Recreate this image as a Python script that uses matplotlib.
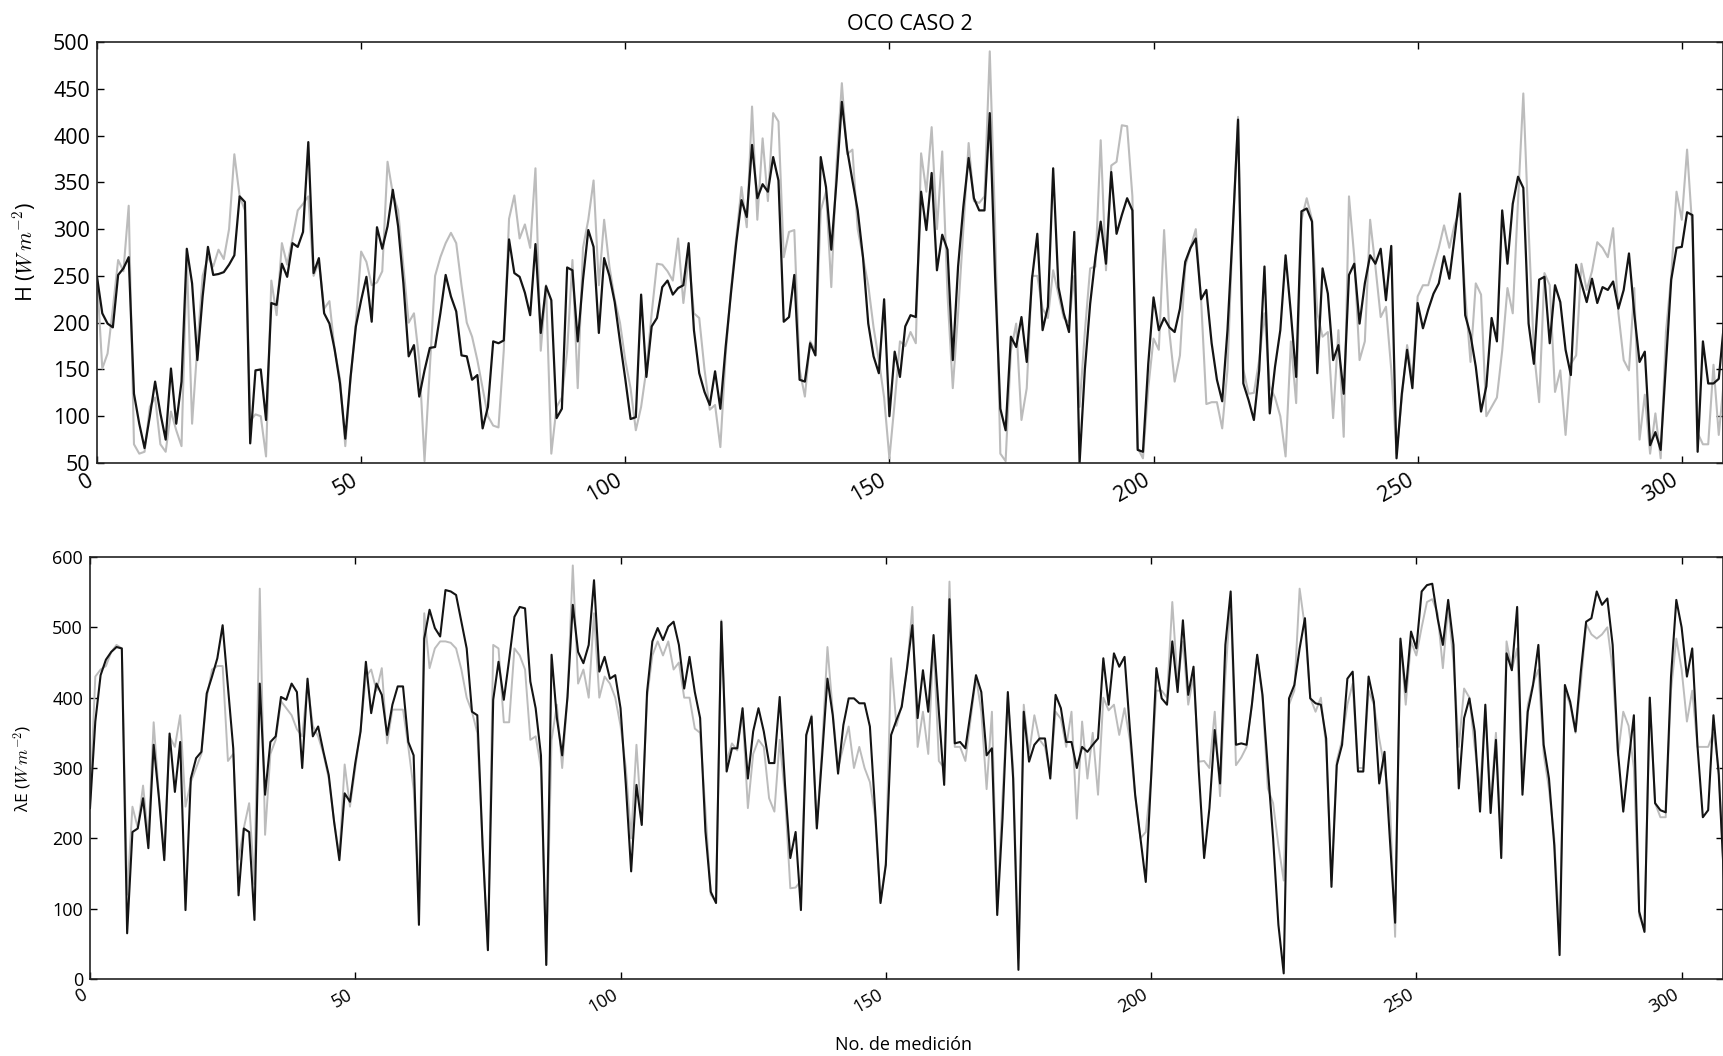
import numpy as np
import matplotlib
matplotlib.use("Agg")
import matplotlib.pyplot as plt

# ---- Flujo de calor sensible H (W m^-2) ----
h_black = [
    249, 210, 199, 195, 251, 258, 270, 124, 92, 66,
    100, 137, 103, 75, 151, 92, 137, 279, 242, 160,
    228, 281, 251, 252, 254, 262, 272, 335, 329, 71,
    149, 150, 96, 221, 219, 263, 249, 285, 281, 297,
    393, 253, 269, 210, 199, 171, 135, 76, 142, 196,
    224, 249, 201, 302, 279, 303, 342, 303, 242, 164,
    176, 121, 149, 173, 174, 210, 251, 228, 212, 165,
    164, 139, 144, 87, 110, 180, 178, 181, 289, 253,
    249, 232, 208, 284, 189, 239, 224, 98, 108, 259,
    256, 180, 246, 299, 281, 189, 269, 250, 222, 180,
    140, 97, 99, 230, 142, 196, 205, 238, 245, 230,
    237, 240, 285, 192, 146, 126, 112, 148, 108, 174,
    231, 285, 331, 313, 390, 333, 348, 340, 377, 352,
    201, 206, 251, 139, 137, 178, 165, 377, 345, 278,
    352, 436, 385, 352, 320, 270, 199, 164, 146, 225,
    100, 169, 142, 196, 208, 206, 340, 299, 360, 256,
    294, 278, 160, 260, 324, 376, 333, 320, 320, 424,
    250, 108, 85, 185, 174, 206, 158, 247, 295, 192,
    217, 365, 238, 210, 190, 297, 50, 150, 220, 270,
    308, 263, 361, 295, 315, 333, 320, 64, 62, 156,
    227, 192, 205, 195, 190, 215, 265, 280, 290, 225,
    235, 178, 139, 116, 192, 299, 417, 135, 117, 96,
    149, 260, 103, 153, 192, 272, 210, 142, 319, 322,
    308, 146, 258, 231, 160, 176, 124, 251, 263, 199,
    242, 272, 263, 279, 224, 282, 55, 124, 171, 130,
    221, 194, 214, 231, 242, 271, 247, 292, 338, 208,
    187, 153, 105, 132, 205, 180, 320, 263, 327, 356,
    344, 199, 156, 246, 249, 178, 240, 222, 171, 144,
    262, 242, 222, 247, 221, 238, 235, 244, 215, 235,
    274, 210, 158, 169, 69, 83, 64, 156, 246, 280,
    281, 318, 315, 62, 180, 135, 135, 140, 200,
]

h_gray = [
    250, 151, 167, 215, 267, 255, 325, 70, 60, 62,
    110, 120, 70, 62, 105, 85, 68, 270, 92, 175,
    250, 270, 260, 278, 268, 300, 380, 335, 320, 95,
    102, 100, 57, 245, 208, 285, 262, 290, 320, 327,
    335, 250, 265, 215, 223, 170, 140, 68, 140, 200,
    276, 265, 240, 243, 255, 372, 338, 320, 260, 200,
    210, 160, 52, 150, 250, 270, 285, 296, 285, 240,
    200, 185, 160, 130, 100, 90, 88, 170, 311, 336,
    290, 305, 280, 365, 170, 240, 60, 110, 120, 170,
    267, 130, 280, 310, 352, 240, 310, 260, 225, 200,
    160, 130, 85, 110, 150, 210, 263, 262, 255, 245,
    290, 221, 270, 210, 205, 150, 107, 112, 67, 165,
    235, 290, 345, 302, 431, 310, 397, 330, 424, 415,
    270, 297, 299, 150, 121, 180, 170, 320, 340, 238,
    370, 456, 380, 385, 300, 270, 240, 195, 160, 120,
    55, 115, 180, 175, 190, 178, 381, 340, 409, 300,
    383, 230, 130, 210, 300, 392, 330, 328, 335, 490,
    306, 60, 52, 170, 199, 96, 130, 250, 250, 215,
    205, 256, 230, 205, 200, 250, 110, 190, 258, 260,
    395, 256, 368, 372, 411, 410, 335, 66, 55, 130,
    183, 171, 299, 190, 137, 165, 260, 280, 300, 225,
    113, 115, 115, 87, 150, 300, 420, 150, 124, 125,
    160, 210, 132, 120, 100, 57, 180, 114, 310, 333,
    310, 210, 185, 190, 98, 192, 78, 335, 270, 160,
    180, 310, 260, 206, 217, 150, 60, 120, 176, 140,
    228, 240, 240, 260, 280, 304, 280, 305, 320, 230,
    158, 242, 230, 100, 110, 120, 170, 237, 210, 330,
    445, 300, 170, 115, 253, 240, 126, 149, 80, 156,
    165, 263, 235, 255, 286, 280, 270, 301, 210, 160,
    149, 237, 75, 123, 60, 103, 55, 190, 250, 340,
    310, 385, 300, 82, 70, 70, 155, 80, 140,
]

# ---- Flujo de calor latente lambda E (W m^-2) ----
le_black = [
    243, 366, 432, 454, 465, 472, 470, 65, 209, 214,
    257, 186, 333, 257, 169, 349, 266, 337, 98, 285,
    314, 323, 406, 430, 456, 503, 416, 328, 119, 214,
    209, 84, 420, 262, 337, 345, 401, 397, 420, 408,
    300, 427, 345, 359, 323, 290, 224, 169, 264, 252,
    307, 352, 451, 378, 420, 404, 347, 390, 416, 416,
    337, 318, 77, 484, 525, 499, 487, 553, 551, 546,
    508, 470, 380, 375, 190, 41, 397, 451, 397, 454,
    515, 529, 527, 423, 385, 318, 20, 461, 371, 318,
    401, 532, 465, 449, 475, 567, 437, 458, 427, 432,
    385, 276, 153, 276, 219, 408, 480, 499, 482, 501,
    508, 475, 413, 458, 408, 371, 210, 124, 108, 508,
    295, 328, 328, 385, 285, 352, 385, 352, 307, 307,
    401, 276, 172, 209, 98, 347, 373, 214, 318, 427,
    375, 292, 361, 399, 399, 392, 392, 359, 238, 108,
    162, 347, 368, 387, 442, 503, 371, 439, 380, 489,
    380, 276, 540, 335, 337, 328, 380, 432, 408, 318,
    328, 91, 228, 408, 285, 13, 380, 309, 333, 342,
    342, 285, 404, 385, 337, 337, 300, 330, 323, 333,
    342, 456, 390, 463, 444, 458, 356, 262, 200, 138,
    285, 442, 399, 390, 480, 408, 510, 404, 444, 295,
    172, 243, 354, 278, 475, 551, 333, 335, 333, 390,
    461, 404, 300, 200, 77, 8, 399, 418, 470, 513,
    399, 392, 390, 342, 131, 304, 333, 427, 437, 295,
    295, 430, 394, 278, 323, 200, 80, 484, 408, 494,
    470, 551, 560, 562, 513, 475, 539, 475, 271, 371,
    399, 352, 238, 390, 236, 340, 172, 463, 439, 529,
    262, 380, 418, 475, 333, 285, 190, 34, 418, 394,
    352, 437, 508, 513, 551, 532, 541, 475, 323, 238,
    309, 375, 96, 67, 400, 250, 240, 237, 430, 539,
    500, 430, 470, 330, 230, 240, 375, 290, 140,
]

le_gray = [
    250, 430, 440, 445, 465, 475, 470, 120, 245, 215,
    275, 200, 365, 260, 175, 345, 330, 375, 245, 280,
    300, 320, 400, 440, 445, 445, 310, 320, 170, 215,
    250, 135, 555, 205, 320, 340, 395, 385, 375, 355,
    345, 420, 360, 345, 320, 285, 225, 175, 305, 245,
    300, 355, 430, 440, 410, 442, 335, 383, 383, 383,
    330, 270, 120, 520, 442, 470, 480, 480, 478, 470,
    440, 400, 380, 350, 190, 41, 475, 470, 365, 365,
    470, 460, 440, 340, 345, 300, 20, 340, 390, 300,
    400, 588, 420, 440, 400, 520, 400, 430, 420, 400,
    360, 300, 200, 333, 220, 400, 460, 480, 460, 480,
    440, 450, 400, 400, 356, 350, 240, 120, 110, 510,
    310, 335, 325, 380, 243, 320, 340, 330, 257, 238,
    340, 260, 129, 130, 140, 345, 375, 215, 330, 472,
    380, 300, 330, 359, 300, 330, 300, 280, 230, 110,
    165, 456, 360, 390, 440, 529, 330, 380, 320, 480,
    310, 300, 565, 330, 330, 310, 370, 430, 380, 270,
    380, 100, 260, 400, 300, 30, 390, 320, 375, 340,
    330, 290, 380, 370, 330, 380, 228, 366, 285, 350,
    262, 400, 382, 390, 347, 385, 340, 260, 200, 209,
    285, 410, 410, 400, 536, 420, 480, 390, 430, 309,
    310, 300, 380, 260, 430, 540, 304, 315, 330, 390,
    460, 400, 271, 250, 190, 140, 390, 410, 555, 500,
    400, 380, 400, 330, 140, 310, 340, 390, 420, 300,
    300, 410, 390, 342, 300, 250, 60, 480, 390, 480,
    460, 500, 536, 540, 520, 442, 530, 450, 330, 413,
    400, 330, 270, 380, 250, 350, 190, 480, 440, 470,
    270, 390, 420, 440, 320, 270, 200, 60, 410, 390,
    350, 420, 505, 490, 484, 490, 500, 440, 318, 380,
    360, 300, 90, 70, 400, 250, 230, 230, 410, 484,
    440, 366, 410, 330, 330, 330, 350, 300, 140,
]

h_ticks = list(range(50, 501, 50))
le_ticks = list(range(0, 601, 100))
x_ticks = list(range(0, 301, 50))

plt.rcParams["font.family"] = ["Open Sans", "DejaVu Sans"]
plt.rcParams["mathtext.fontset"] = "cm"

W, H = 1723, 1056
fig = plt.figure(figsize=(W / 100, H / 100), dpi=100)

GRAY = "#bcbcbc"
BLACK = "#141414"
XMAX = 307.8


def style_axes(ax, fs):
    ax.tick_params(direction="in", top=True, right=True, length=5,
                   width=1.0, labelsize=fs, pad=5)
    for s in ax.spines.values():
        s.set_linewidth(1.2)
        s.set_color("#222222")
    ax.set_xticks(x_ticks)
    ax.set_xticklabels([str(t) for t in x_ticks], rotation=30, ha="right")


# Panel superior: H
ax1 = fig.add_axes([97 / W, 1 - 463 / H, 1 - 97 / W, 421 / H])
ax1.plot(np.arange(len(h_gray)), h_gray, color=GRAY, lw=1.5)
ax1.plot(np.arange(len(h_black)), h_black, color=BLACK, lw=1.6)
ax1.set_xlim(0, XMAX)
ax1.set_ylim(50, 500)
ax1.set_yticks(h_ticks)
style_axes(ax1, 15.5)
ax1.set_title("OCO CASO 2", fontsize=15.5, pad=9)
ax1.set_ylabel(r"H ($W\,m^{-2}$)", fontsize=15.5)
ax1.yaxis.set_label_coords(-0.036, 0.5)

# Panel inferior: lambda E
ax2 = fig.add_axes([90 / W, 1 - 979 / H, 1 - 90 / W, 422 / H])
ax2.plot(np.arange(len(le_gray)), le_gray, color=GRAY, lw=1.4)
ax2.plot(np.arange(len(le_black)), le_black, color=BLACK, lw=1.5)
ax2.set_xlim(0, XMAX)
ax2.set_ylim(0, 600)
ax2.set_yticks(le_ticks)
style_axes(ax2, 13)
ax2.set_ylabel(r"λE ($W\,m^{-2}$)", fontsize=12.5)
ax2.yaxis.set_label_coords(-0.034, 0.5)
ax2.set_xlabel("No. de medición", fontsize=13)
ax2.xaxis.set_label_coords(0.498, -0.135)

fig.savefig("out.png", dpi=100)
